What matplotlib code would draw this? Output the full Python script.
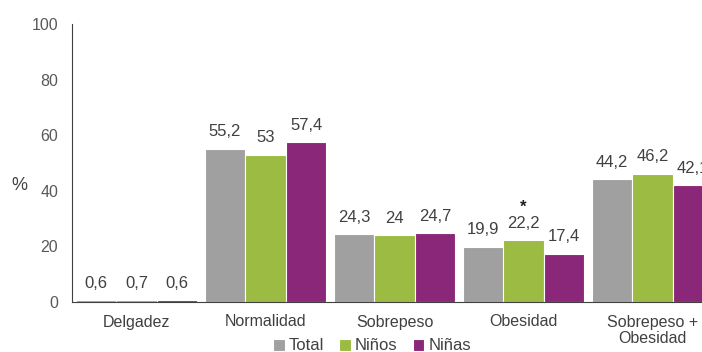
import numpy as np
import matplotlib.pyplot as plt

plt.rcParams['font.family'] = ['Liberation Sans', 'DejaVu Sans']

# Estado nutricional por sexo (%)
categorias = ['Delgadez', 'Normalidad', 'Sobrepeso', 'Obesidad', 'Sobrepeso +\nObesidad']
total = [0.6, 55.2, 24.3, 19.9, 44.2]
ninos = [0.7, 53.0, 24.0, 22.2, 46.2]
ninas = [0.6, 57.4, 24.7, 17.4, 42.1]
series = ['Total', 'Niños', 'Niñas']
colores = ['#A0A0A0', '#9BBB42', '#8B2779']
marcas = {(1, 3): '*'}   # diferencia significativa (serie, categoría)

fig = plt.figure(figsize=(7.02, 3.52), dpi=100)
ax = fig.add_axes([72 / 702, 50 / 352, 645 / 702, 278 / 352])

x = np.arange(len(categorias))
ancho = 0.315
for i, (nombre, vals, col) in enumerate(zip(series, [total, ninos, ninas], colores)):
    pos = x + (i - 1) * ancho
    ax.bar(pos, vals, ancho, color=col, edgecolor='white', linewidth=0.8, label=nombre)
    for j, (p, v) in enumerate(zip(pos, vals)):
        txt = f'{v:g}'.replace('.', ',')
        ax.text(p, v + 3.4, txt, ha='center', va='bottom', fontsize=12, color='#404040')
        if (i, j) in marcas:
            ax.text(p, v + 12.0, marcas[(i, j)], ha='center', va='center',
                    fontsize=12, fontweight='bold', color='#202020')

ax.set_xlim(-0.5, len(categorias) - 0.5)
ax.set_ylim(0, 100)
ax.set_yticks(range(0, 101, 20))
ax.set_xticks(x)
ax.set_xticklabels(categorias, fontsize=11.5, color='#404040', linespacing=1.15)
ax.tick_params(axis='y', length=0, pad=10, labelsize=11.5, labelcolor='#595959')
ax.tick_params(axis='x', length=0, pad=9)

for s in ['top', 'right']:
    ax.spines[s].set_visible(False)
ax.spines['left'].set_color('#404040')
ax.spines['bottom'].set_color('#404040')

fig.text(19 / 702, (352 - 186) / 352, '%', ha='center', va='center',
         fontsize=13, color='#404040')

fig.legend(loc='center', bbox_to_anchor=(372 / 702, 6 / 352), ncol=3, frameon=False,
           fontsize=12, handlelength=0.7, handleheight=0.7, handletextpad=0.25,
           columnspacing=0.9, labelcolor='#404040')

fig.savefig('out.png', dpi=100)
